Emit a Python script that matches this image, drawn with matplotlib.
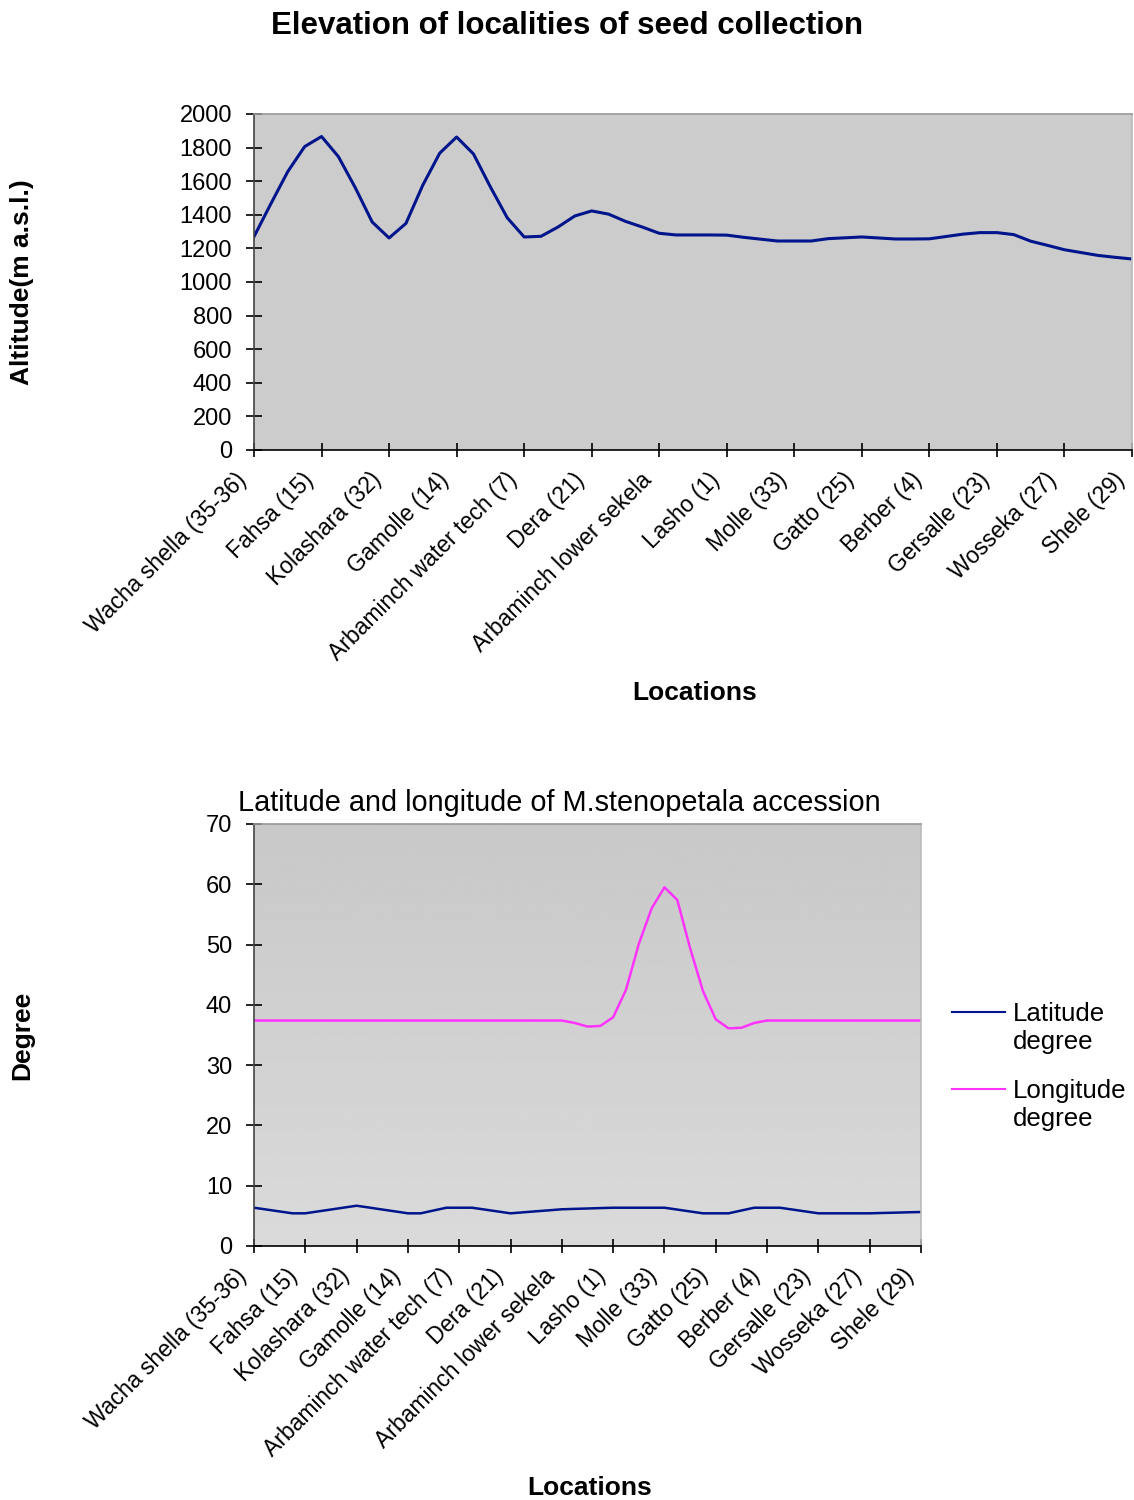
import matplotlib
matplotlib.use("Agg")
import matplotlib.pyplot as plt
import matplotlib.transforms as mtransforms
import numpy as np
from matplotlib.legend_handler import HandlerLine2D

plt.rcParams['font.family'] = ['Liberation Sans', 'DejaVu Sans']

# tick labels (one every 4 data points)
locations = ['Wacha shella (35-36)', 'Fahsa (15)', 'Kolashara (32)', 'Gamolle (14)',
             'Arbaminch water tech (7)', 'Dera (21)', 'Arbaminch lower sekela',
             'Lasho (1)', 'Molle (33)', 'Gatto (25)', 'Berber (4)', 'Gersalle (23)',
             'Wosseka (27)', 'Shele (29)']

# altitude, m a.s.l.
altitude = [1270, 1466, 1657, 1806, 1866, 1746, 1561, 1357, 1262, 1349, 1577, 1767,
            1863, 1762, 1566, 1382, 1268, 1272, 1327, 1393, 1423, 1404, 1361, 1327,
            1290, 1280, 1280, 1280, 1279, 1266, 1255, 1244, 1244, 1244, 1258, 1263,
            1268, 1262, 1256, 1256, 1257, 1271, 1285, 1294, 1294, 1282, 1243, 1218,
            1192, 1175, 1158, 1147, 1137]

latitude = [6.35, 6.04, 5.73, 5.42, 5.42, 5.74, 6.05, 6.37, 6.68, 6.37, 6.05, 5.74,
            5.42, 5.42, 5.89, 6.35, 6.35, 6.35, 6.04, 5.73, 5.42, 5.59, 5.76, 5.92,
            6.09, 6.16, 6.22, 6.29, 6.35, 6.35, 6.35, 6.35, 6.35, 6.04, 5.73, 5.42,
            5.42, 5.42, 5.89, 6.35, 6.35, 6.35, 6.04, 5.73, 5.42, 5.42, 5.42, 5.42,
            5.42, 5.48, 5.53, 5.59, 5.64]

longitude = [37.4, 37.4, 37.4, 37.4, 37.4, 37.4, 37.4, 37.4, 37.4, 37.4, 37.4, 37.4,
             37.4, 37.4, 37.4, 37.4, 37.4, 37.4, 37.4, 37.4, 37.4, 37.4, 37.4, 37.4,
             37.4, 37.0, 36.4, 36.5, 37.95, 42.5, 50.1, 56.0, 59.5, 57.4, 49.4, 42.3,
             37.6, 36.1, 36.2, 37.0, 37.4, 37.4, 37.4, 37.4, 37.4, 37.4, 37.4, 37.4,
             37.4, 37.4, 37.4, 37.4, 37.4]

x = np.arange(len(altitude))
tick_pos = x[::4]


class FirstLineHandler(HandlerLine2D):
    def create_artists(self, legend, orig_handle, xdescent, ydescent, width, height, fontsize, trans):
        arts = super().create_artists(legend, orig_handle, xdescent, ydescent, width, height, fontsize, trans)
        for a in arts:
            a.set_ydata(np.asarray(a.get_ydata()) + 0.65 * fontsize)
        return arts


def style_axes(ax):
    ax.spines['top'].set_color('#999999')
    ax.spines['right'].set_color('#bbbbbb')
    ax.spines['left'].set_color('#444444')
    ax.spines['bottom'].set_color('black')
    for s in ax.spines.values():
        s.set_linewidth(1.2)
    ax.tick_params(axis='y', direction='inout', length=11.5, width=1.2, pad=10, labelsize=17)
    ax.tick_params(axis='x', direction='inout', length=10, width=1.2, pad=14, labelsize=16.5)
    ax.set_xlim(0, len(x) - 1)
    ax.set_xticks(tick_pos)
    ax.set_xticklabels(locations, rotation=45, ha='right', va='center', rotation_mode='anchor')
    shift = mtransforms.ScaledTranslation(-0.11, 0, fig.dpi_scale_trans)
    for lab in ax.get_xticklabels():
        lab.set_transform(lab.get_transform() + shift)


fig = plt.figure(figsize=(11.34, 15), dpi=100)

# top chart
ax1 = fig.add_axes([254 / 1134, 1 - 450 / 1500, 878 / 1134, 336 / 1500])
ax1.set_facecolor('#cccccc')
ax1.plot(x, altitude, color='#00148c', lw=2.2)
ax1.set_ylim(0, 2000)
ax1.set_yticks(range(0, 2001, 200))
style_axes(ax1)
fig.text(567 / 1134, 1 - 26 / 1500, 'Elevation of localities of seed collection',
         ha='center', va='center', fontsize=22.5, fontweight='bold')
fig.text(22 / 1134, 1 - 282 / 1500, 'Altitude(m a.s.l.)', rotation=90,
         ha='center', va='center', fontsize=19, fontweight='bold')
fig.text(695 / 1134, 1 - 693 / 1500, 'Locations', ha='center', va='center',
         fontsize=19, fontweight='bold')

# bottom chart
ax2 = fig.add_axes([254 / 1134, 1 - 1246 / 1500, 667 / 1134, 422 / 1500])
grad = np.linspace(0.785, 0.855, 256).reshape(-1, 1)
ax2.imshow(grad, cmap='gray', vmin=0, vmax=1, aspect='auto', extent=[0, 1, 0, 1],
           transform=ax2.transAxes, zorder=0)
ax2.plot(x, latitude, color='#00148c', lw=1.8, label='Latitude\ndegree')
ax2.plot(x, longitude, color='#ff33ff', lw=1.8, label='Longitude\ndegree')
ax2.set_ylim(0, 70)
ax2.set_yticks(range(0, 71, 10))
style_axes(ax2)
fig.text(559 / 1134, 1 - 803 / 1500, 'Latitude and longitude of M.stenopetala accession',
         ha='center', va='center', fontsize=20.8)
fig.text(22 / 1134, 1 - 1035 / 1500, 'Degree', rotation=90,
         ha='center', va='center', fontsize=19, fontweight='bold')
fig.text(590 / 1134, 1 - 1488 / 1500, 'Locations', ha='center', va='center',
         fontsize=19, fontweight='bold')

leg = ax2.legend(loc='upper left', bbox_to_anchor=(952 / 1134, 1 - 1002 / 1500),
                 bbox_transform=fig.transFigure, frameon=False, fontsize=18.6,
                 borderpad=0, borderaxespad=0, handlelength=2.05, handletextpad=0.3,
                 labelspacing=0.98, handler_map={matplotlib.lines.Line2D: FirstLineHandler()})
for line in leg.get_lines():
    line.set_linewidth(1.5)

fig.savefig('out.png', dpi=100)
